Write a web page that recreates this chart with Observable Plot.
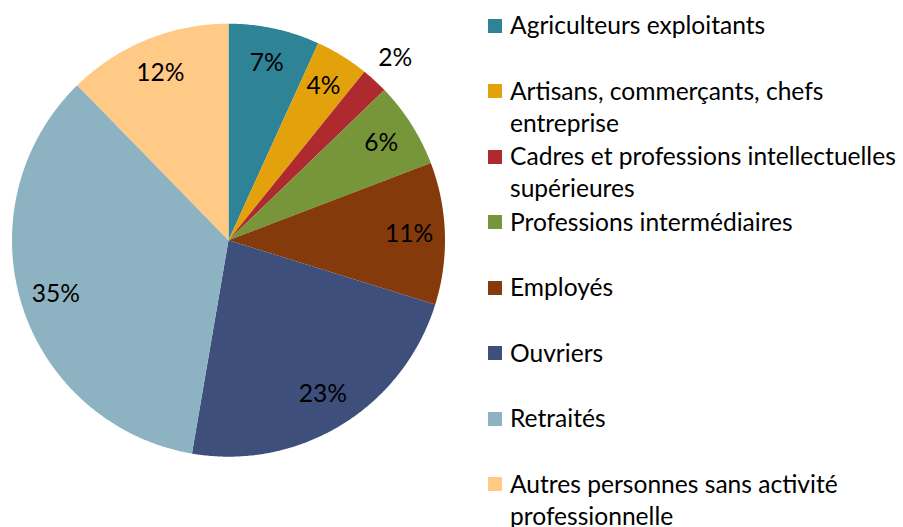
<!DOCTYPE html>
<html>
<head>
<meta charset="utf-8">
<script src="https://cdn.jsdelivr.net/npm/d3@7"></script>
<script src="https://cdn.jsdelivr.net/npm/@observablehq/plot@0.6"></script>
<style>
  html, body { margin: 0; padding: 0; background: #fff; overflow: hidden; }
  #wrap { position: relative; width: 903px; height: 527px; font-family: Lato, "Open Sans", sans-serif; }
  #chart { position: absolute; left: 0; top: 0; }
  .entry { position: absolute; left: 488px; width: 415px; display: flex; align-items: flex-start; color: #000; }
  .sw { width: 14px; height: 14px; flex: none; margin-right: 8px; }
  .lbl { width: 393px; line-height: 32px; white-space: normal; }
</style>
</head>
<body>
<div id="wrap"><div id="chart"></div><div id="legend"></div></div>
<script>
const categories = [
  "Agriculteurs exploitants",
  "Artisans, commerçants, chefs entreprise",
  "Cadres et professions intellectuelles supérieures",
  "Professions intermédiaires",
  "Employés",
  "Ouvriers",
  "Retraités",
  "Autres personnes sans activité professionnelle"
];
const values = [6.8, 4.0, 2.0, 6.4, 10.6, 22.9, 35.0, 12.3];
const colors = ["#2F8397", "#E3A20B", "#AE2A2E", "#77963A", "#843A0B", "#3E4F7B", "#8DB3C2", "#FFC986"];

// font size fitted so the widest legend line matches the reference width
const canvas = document.createElement("canvas");
const ctx = canvas.getContext("2d");
ctx.font = "100px Lato";
const wRef = ctx.measureText("Cadres et professions intellectuelles").width;
const fontSize = Math.min(27, 100 * 386 / wRef);

// pie geometry in a unit space (radius 1), top = 0, clockwise
const total = d3.sum(values);
let cum = 0;
const slices = values.map((v, i) => {
  const a0 = cum / total * 2 * Math.PI;
  cum += v;
  const a1 = cum / total * 2 * Math.PI;
  return {cat: categories[i], value: v, a0, a1};
});
const rows = [];
for (const s of slices) {
  rows.push({cat: s.cat, x: 0, y: 0});
  const n = Math.max(2, Math.ceil((s.a1 - s.a0) / (Math.PI / 360)));
  for (let k = 0; k <= n; k++) {
    const a = s.a0 + (s.a1 - s.a0) * k / n;
    rows.push({cat: s.cat, x: Math.sin(a), y: Math.cos(a)});
  }
  rows.push({cat: s.cat, x: 0, y: 0});
}
const labels = slices.map(s => {
  const m = (s.a0 + s.a1) / 2;
  const r = s.value < 3 ? 1.14 : 0.835;
  return {x: r * Math.sin(m), y: r * Math.cos(m), text: Math.round(s.value / total * 100) + "%"};
});

const W = 903, H = 527, cx = 228, cy = 239.7, R = 216.5;
const chart = Plot.plot({
  width: W, height: H, margin: 0,
  x: {domain: [-cx / R, (W - cx) / R], axis: null},
  y: {domain: [-(H - cy) / R, cy / R], axis: null},
  color: {type: "ordinal", domain: categories, range: colors},
  style: {fontFamily: "Lato, 'Open Sans', sans-serif", background: "white"},
  marks: [
    Plot.line(rows, {x: "x", y: "y", z: "cat", fill: "cat", stroke: "none", curve: "linear"}),
    Plot.text(labels, {x: "x", y: "y", text: "text", fontSize: fontSize, fill: "black"})
  ]
});
document.getElementById("chart").appendChild(chart);

// legend
const legend = document.getElementById("legend");
const centers0 = 25.5, step = 65.55;
categories.forEach((c, i) => {
  const e = document.createElement("div");
  e.className = "entry";
  const yc = centers0 + step * i;
  e.style.top = (yc - 16.5) + "px";
  e.style.fontSize = fontSize + "px";
  const sw = document.createElement("div");
  sw.className = "sw";
  sw.style.background = colors[i];
  sw.style.marginTop = "9.5px";
  const t = document.createElement("div");
  t.className = "lbl";
  t.textContent = c;
  e.appendChild(sw); e.appendChild(t);
  legend.appendChild(e);
});
</script>
</body>
</html>
